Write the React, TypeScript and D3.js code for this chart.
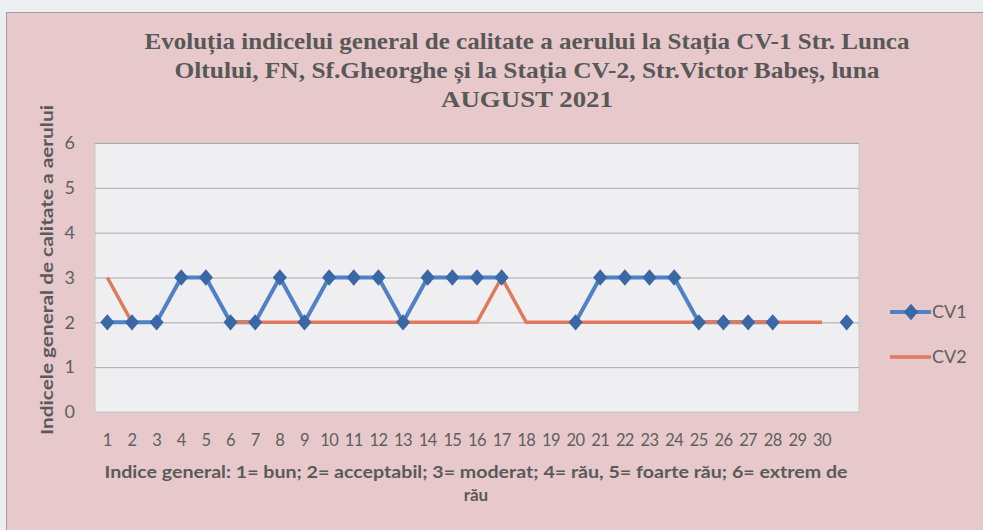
import { FC, useEffect, useRef } from 'react';
import * as d3 from 'd3';

const DAYS = [
  '1', '2', '3', '4', '5', '6', '7', '8', '9', '10', '11', '12', '13', '14', '15', '16',
  '17', '18', '19', '20', '21', '22', '23', '24', '25', '26', '27', '28', '29', '30', '31',
];
const DAY_LABELS = [
  '1', '2', '3', '4', '5', '6', '7', '8', '9', '10', '11', '12', '13', '14', '15', '16',
  '17', '18', '19', '20', '21', '22', '23', '24', '25', '26', '27', '28', '29', '30', '',
];
const CV1: (number | null)[] = [
  2, 2, 2, 3, 3, 2, 2, 3, 2, 3, 3, 3, 2, 3, 3, 3, 3, null, null, 2, 3, 3, 3, 3, 2, 2, 2, 2,
  null, null, 2,
];
const CV2: (number | null)[] = [
  3, 2, null, null, null, 2, 2, 2, 2, 2, 2, 2, 2, 2, 2, 2, 3, 2, 2, 2, 2, 2, 2, 2, 2, 2, 2, 2,
  2, 2, null,
];
const Y_TICKS = [0, 1, 2, 3, 4, 5, 6];
const TITLE_LINES = [
  'Evoluția indicelui general de calitate a aerului la Stația CV-1 Str. Lunca',
  'Oltului, FN, Sf.Gheorghe și la Stația CV-2, Str.Victor Babeș, luna',
  'AUGUST 2021',
];
const TITLE_WIDTHS = [765, 705, 172];
const X_TITLE_LINES = [
  'Indice general: 1= bun; 2= acceptabil; 3= moderat; 4= rău, 5= foarte rău; 6= extrem de',
  'rău',
];
const Y_TITLE = 'Indicele general  de calitate a aerului';

const BLUE = '#4f81c4';
const BLUE_DARK = '#3a67a6';
const ORANGE = '#df7a5a';
const SANS = "Lato, 'Open Sans', sans-serif";

// square-ish diamond like the spreadsheet marker
const diamondMarker = {
  draw(ctx: d3.Path, size: number) {
    const w = Math.sqrt(size) / 2;
    const h = w * 1.15;
    ctx.moveTo(0, -h);
    ctx.lineTo(w, 0);
    ctx.lineTo(0, h);
    ctx.lineTo(-w, 0);
    ctx.closePath();
  },
};

const Chart: FC = () => {
  const svgRef = useRef<SVGSVGElement>(null);

  useEffect(() => {
    if (!svgRef.current) return;
    document.body.style.margin = '0';
    const width = 983;
    const height = 530;
    const svg = d3.select(svgRef.current).attr('width', width).attr('height', height);
    svg.selectAll('*').remove();

    // page and chart frame
    svg.append('rect').attr('width', width).attr('height', height).attr('fill', '#eceef1');
    svg
      .append('rect')
      .attr('x', 6.5)
      .attr('y', 12.5)
      .attr('width', width + 10)
      .attr('height', height)
      .attr('fill', '#e7c8cb')
      .attr('stroke', '#9c9ea3');

    const plot = { left: 95, right: 859, top: 143, bottom: 412 };
    const x = d3.scaleBand<string>().domain(DAYS).range([plot.left, plot.right]);
    const cx = (i: number) => (x(DAYS[i]) as number) + x.bandwidth() / 2;
    const y = d3.scaleLinear().domain([0, 6]).range([plot.bottom, plot.top]);

    svg
      .append('rect')
      .attr('x', plot.left)
      .attr('y', plot.top)
      .attr('width', plot.right - plot.left)
      .attr('height', plot.bottom - plot.top)
      .attr('fill', '#efeff2')
      .attr('stroke', '#c9c9cc');

    // gridlines + y axis
    const yAxis = d3
      .axisLeft(y)
      .tickValues(Y_TICKS)
      .tickFormat(d3.format('d'))
      .tickSize(0)
      .tickPadding(20);
    const gy = svg.append('g').attr('transform', `translate(${plot.left},0)`).call(yAxis);
    gy.select('.domain').remove();
    gy.selectAll('text')
      .attr('fill', '#5f5f5f')
      .attr('font-size', 18)
      .attr('font-family', SANS);
    gy.selectAll('g.tick')
      .append('line')
      .attr('x1', 0)
      .attr('x2', plot.right - plot.left)
      .attr('stroke', (d) => ((d as number) === 0 ? '#c9c9cc' : '#a9a9ad'))
      .attr('stroke-width', 1);

    // x axis
    const xAxis = d3
      .axisBottom(x)
      .tickFormat((_d, i) => DAY_LABELS[i])
      .tickSize(0)
      .tickPadding(22);
    const gx = svg.append('g').attr('transform', `translate(0,${plot.bottom})`).call(xAxis);
    gx.select('.domain').remove();
    gx.selectAll('text')
      .attr('fill', '#5f5f5f')
      .attr('font-size', 16.5)
      .attr('letter-spacing', -0.6)
      .attr('font-family', SANS);

    // lines
    const line = d3
      .line<number | null>()
      .defined((d) => d !== null)
      .x((_d, i) => cx(i))
      .y((d) => y(d as number));

    svg
      .append('path')
      .datum(CV1)
      .attr('d', line)
      .attr('fill', 'none')
      .attr('stroke', BLUE)
      .attr('stroke-width', 4)
      .attr('stroke-linejoin', 'round');

    svg
      .append('path')
      .datum(CV2)
      .attr('d', line)
      .attr('fill', 'none')
      .attr('stroke', ORANGE)
      .attr('stroke-width', 3.5)
      .attr('stroke-linejoin', 'round');

    const diamond = d3.symbol(diamondMarker, 200);
    svg
      .selectAll('.dot-cv1')
      .data(CV1.map((v, i) => ({ v, i })).filter((d) => d.v !== null))
      .join('path')
      .attr('class', 'dot-cv1')
      .attr('d', diamond)
      .attr('transform', (d) => `translate(${cx(d.i)},${y(d.v as number)})`)
      .attr('fill', BLUE_DARK);

    // legend
    const leg = svg.append('g').attr('font-family', SANS).attr('font-size', 18).attr('fill', '#5f5f5f');
    leg.append('line').attr('x1', 890).attr('x2', 931).attr('y1', 312).attr('y2', 312)
      .attr('stroke', BLUE).attr('stroke-width', 4);
    leg.append('path').attr('d', diamond).attr('transform', 'translate(911,312)').attr('fill', BLUE_DARK);
    leg.append('text').attr('x', 932).attr('y', 318).text('CV1');
    leg.append('line').attr('x1', 890).attr('x2', 931).attr('y1', 357).attr('y2', 357)
      .attr('stroke', ORANGE).attr('stroke-width', 3.5);
    leg.append('text').attr('x', 932).attr('y', 363).text('CV2');

    // title
    svg
      .append('g')
      .selectAll('text')
      .data(TITLE_LINES)
      .join('text')
      .attr('x', 527)
      .attr('y', (_d, i) => 49 + i * 28.8)
      .attr('text-anchor', 'middle')
      .attr('font-family', "'Liberation Serif', 'Times New Roman', serif")
      .attr('font-weight', 'bold')
      .attr('font-size', 24)
      .attr('textLength', (_d, i) => TITLE_WIDTHS[i])
      .attr('lengthAdjust', 'spacingAndGlyphs')
      .attr('fill', '#585858')
      .text((d) => d);

    // x axis title
    svg
      .append('g')
      .selectAll('text')
      .data(X_TITLE_LINES)
      .join('text')
      .attr('x', 476)
      .attr('y', (_d, i) => 478 + i * 23)
      .attr('text-anchor', 'middle')
      .attr('font-family', SANS)
      .attr('font-weight', 'bold')
      .attr('font-size', 17)
      .attr('textLength', (_d, i) => (i === 0 ? 743 : null))
      .attr('lengthAdjust', 'spacingAndGlyphs')
      .attr('fill', '#5a5a5a')
      .text((d) => d);

    // y axis title
    svg
      .append('text')
      .attr('transform', `translate(53,270) rotate(-90)`)
      .attr('text-anchor', 'middle')
      .attr('font-family', SANS)
      .attr('font-weight', 'bold')
      .attr('font-size', 17)
      .attr('textLength', 330)
      .attr('lengthAdjust', 'spacingAndGlyphs')
      .attr('fill', '#5a5a5a')
      .text(Y_TITLE);
  }, []);

  return <svg ref={svgRef} style={{ display: 'block' }} />;
};

export default function App() {
  return <Chart />;
}
